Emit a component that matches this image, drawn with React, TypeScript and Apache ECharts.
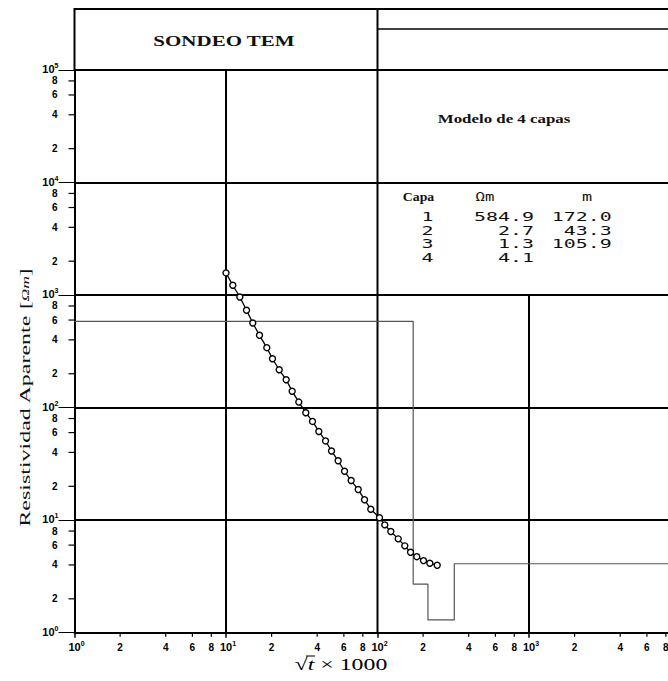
import React, { useEffect, useRef } from 'react';
import * as echarts from 'echarts';

// Measured curve: sqrt(t) x 1000 vs apparent resistivity (Ohm m)
const sqrtTimeX = [10.0, 11.09, 12.34, 13.66, 15.02, 16.64, 18.59, 20.27, 22.44, 24.96, 27.33, 30.24, 33.63, 37.24, 41.0, 45.4, 49.7, 55.0, 60.6, 67.0, 74.6, 82.1, 90.3, 103.1, 111.7, 122.4, 137, 151.4, 165.2, 181.7, 201.2, 221.5, 247.8];
const apparentRho = [1574, 1222, 962, 733, 565, 439, 341, 272, 217, 177, 140, 112, 90.1, 75.4, 61.4, 50.6, 41.2, 33.7, 27.2, 22.5, 18.7, 15.2, 12.5, 10.5, 9.08, 7.92, 6.82, 5.91, 5.18, 4.74, 4.37, 4.14, 3.97];

// 4-layer model
const layerIds = ['1', '2', '3', '4'];
const layerRho = [584.9, 2.7, 1.3, 4.1];
const layerThickness = [172.0, 43.3, 105.9];

// Axis ticks
const xDecades = [1, 10, 100, 1000];
const yDecades = [1, 10, 100, 1000, 10000];
const xMajors = [1, 10, 100, 1000, 10000];
const yMajors = [1, 10, 100, 1000, 10000, 100000];
const minorDigits = [2, 4, 6, 8];

const titleText = 'SONDEO TEM';
const modelTitle = 'Modelo de 4 capas';
const tableHeaders = ['Capa', 'Ωm', 'm'];
const yName = 'Resistividad Aparente ';
const yUnit = 'Ωm';

const L = 74.5;
const T = 70;
const DEC_X = 151.5;
const B = 632.7;
const W = 668;
const H = 681;

export default function App() {
  const ref = useRef<HTMLDivElement>(null);

  useEffect(() => {
    const chart = echarts.init(ref.current!, null, { renderer: 'svg' });

    const curve = sqrtTimeX.map((x, i) => [x, apparentRho[i]]);

    const steps: number[][] = [[1, layerRho[0]]];
    let depth = 0;
    layerThickness.forEach((th, i) => {
      depth += th;
      steps.push([depth, layerRho[i]]);
      steps.push([depth, layerRho[i + 1]]);
    });
    steps.push([10000, layerRho[layerRho.length - 1]]);

    const xMinor: number[][] = [];
    xDecades.forEach((d) => minorDigits.forEach((m) => xMinor.push([d * m, m])));
    const yMinor: number[][] = [];
    yDecades.forEach((d) => minorDigits.forEach((m) => yMinor.push([m, d * m])));

    const tickFont = 'bold 10px "Liberation Sans"';
    const majorRich = {
      b: { font: 'bold 11px "Liberation Sans"', fill: '#000', lineHeight: 12 },
      s: { font: 'bold 7px "Liberation Sans"', fill: '#000', padding: [0, 0, 7, 0] },
    };
    const majorText = (v: number) => `{b|10}{s|${Math.round(Math.log10(v))}}`;

    const vline = (x: number, y2: number) => ({
      type: 'line',
      data: [[x, 1], [x, y2]],
      symbol: 'none',
      silent: true,
      lineStyle: { color: '#000', width: 2 },
      z: 3,
    });

    const right = W - (L + 4 * DEC_X);
    const rightEdge = L + 4 * DEC_X + 20;
    const x100 = L + 2 * DEC_X;

    const tableFont = '12px "DejaVu Sans Mono"';
    const rowsY = [217.3, 230.7, 244.3, 258.3];
    const tableTexts: any[] = [];
    layerIds.forEach((id, i) => {
      tableTexts.push({
        type: 'text', x: 427.5, y: rowsY[i], scaleX: 1.66,
        style: { text: id, font: tableFont, fill: '#111', align: 'center', verticalAlign: 'middle' },
      });
      tableTexts.push({
        type: 'text', x: 534, y: rowsY[i], scaleX: 1.66,
        style: { text: layerRho[i].toFixed(1), font: tableFont, fill: '#111', align: 'right', verticalAlign: 'middle' },
      });
      if (i < layerThickness.length) {
        tableTexts.push({
          type: 'text', x: 611.7, y: rowsY[i], scaleX: 1.66,
          style: { text: layerThickness[i].toFixed(1), font: tableFont, fill: '#111', align: 'right', verticalAlign: 'middle' },
        });
      }
    });

    const option: any = {
      animation: false,
      backgroundColor: '#fff',
      grid: {
        left: L,
        top: T,
        right: right,
        bottom: H - B,
        containLabel: false,
        outerBoundsMode: 'none',
      },
      xAxis: {
        type: 'log',
        logBase: 10,
        min: 1,
        max: 10000,
        axisLine: { show: true, lineStyle: { color: '#000', width: 2 } },
        axisTick: { show: true, length: 5, lineStyle: { color: '#000', width: 1.5 } },
        axisLabel: { show: false },
        splitLine: { show: false },
        minorTick: { show: false },
      },
      yAxis: {
        type: 'log',
        logBase: 10,
        min: 1,
        max: 100000,
        axisLine: { show: true, lineStyle: { color: '#000', width: 2 } },
        axisTick: { show: true, length: 16, lineStyle: { color: '#000', width: 1 } },
        axisLabel: { show: false },
        splitLine: { show: true, lineStyle: { color: '#000', width: 2 } },
        minorTick: { show: false },
      },
      series: [
        vline(10, 100000),
        vline(100, 100000),
        vline(1000, 1000),
        {
          type: 'line',
          data: steps,
          symbol: 'none',
          silent: true,
          lineStyle: { color: '#555', width: 1.2 },
          z: 4,
        },
        {
          type: 'line',
          data: curve,
          symbol: 'circle',
          symbolSize: 6,
          itemStyle: { color: '#fff', borderColor: '#000', borderWidth: 1.4 },
          lineStyle: { color: '#000', width: 1.3 },
          z: 5,
        },
        {
          type: 'custom',
          clip: false,
          silent: true,
          data: xMinor,
          z: 6,
          renderItem: (params: any, api: any) => {
            const v = api.value(0);
            const d = api.value(1);
            const p = api.coord([v, 1]);
            return {
              type: 'group',
              children: [
                { type: 'line', shape: { x1: p[0], y1: p[1], x2: p[0], y2: p[1] + 4 }, style: { stroke: '#000', lineWidth: 1.2 } },
                { type: 'text', style: { text: String(d), x: p[0], y: p[1] + 15, align: 'center', verticalAlign: 'middle', font: tickFont, fill: '#000' } },
              ],
            };
          },
        },
        {
          type: 'custom',
          clip: false,
          silent: true,
          data: yMinor,
          z: 6,
          renderItem: (params: any, api: any) => {
            const d = api.value(0);
            const v = api.value(1);
            const p = api.coord([1, v]);
            return {
              type: 'group',
              children: [
                { type: 'line', shape: { x1: p[0] - 6, y1: p[1], x2: p[0], y2: p[1] }, style: { stroke: '#000', lineWidth: 1.2 } },
                { type: 'text', style: { text: String(d), x: p[0] - 17, y: p[1], align: 'right', verticalAlign: 'middle', font: tickFont, fill: '#000' } },
              ],
            };
          },
        },
        {
          type: 'custom',
          clip: false,
          silent: true,
          data: xMajors.map((v) => [v, 1]),
          z: 6,
          renderItem: (params: any, api: any) => {
            const v = api.value(0);
            const p = api.coord([v, 1]);
            return {
              type: 'text',
              style: { text: majorText(v), rich: majorRich, x: p[0] + 2, y: p[1] + 14, align: 'center', verticalAlign: 'middle', fill: '#000' },
            };
          },
        },
        {
          type: 'custom',
          clip: false,
          silent: true,
          data: yMajors.map((v) => [1, v]),
          z: 6,
          renderItem: (params: any, api: any) => {
            const v = api.value(1);
            const p = api.coord([1, v]);
            return {
              type: 'text',
              style: { text: majorText(v), rich: majorRich, x: p[0] - 16, y: p[1] - 1, align: 'right', verticalAlign: 'middle', fill: '#000' },
            };
          },
        },
      ],
      graphic: [
        {
          type: 'rect',
          shape: { x: L, y: 9, width: rightEdge - L, height: T - 9 },
          style: { fill: 'none', stroke: '#000', lineWidth: 2 },
          silent: true,
        },
        {
          type: 'line',
          shape: { x1: x100, y1: 9, x2: x100, y2: T },
          style: { stroke: '#000', lineWidth: 2 },
          silent: true,
        },
        {
          type: 'line',
          shape: { x1: x100, y1: 29, x2: rightEdge, y2: 29 },
          style: { stroke: '#000', lineWidth: 1.5 },
          silent: true,
        },
        {
          type: 'text', x: 224, y: 41, scaleX: 1.4,
          style: { text: titleText, font: 'bold 15px "Liberation Serif"', fill: '#111', align: 'center', verticalAlign: 'middle' },
        },
        {
          type: 'text', x: 504, y: 119, scaleX: 1.35,
          style: { text: modelTitle, font: 'bold 12.5px "Liberation Serif"', fill: '#111', align: 'center', verticalAlign: 'middle' },
        },
        {
          type: 'text', x: 418.5, y: 196.7, scaleX: 1.15,
          style: { text: tableHeaders[0], font: 'bold 12px "Liberation Serif"', fill: '#111', align: 'center', verticalAlign: 'middle' },
        },
        {
          type: 'text', x: 485, y: 196.7, scaleX: 1.3,
          style: { text: tableHeaders[1], font: tableFont, fill: '#111', align: 'center', verticalAlign: 'middle' },
        },
        {
          type: 'text', x: 587, y: 196.7, scaleX: 1.4,
          style: { text: tableHeaders[2], font: tableFont, fill: '#111', align: 'center', verticalAlign: 'middle' },
        },
        ...tableTexts,
        {
          type: 'text', x: 25, y: 398, rotation: Math.PI / 2, scaleX: 1.6,
          style: {
            text: `{a|${yName}}{u|[}{i|${yUnit}}{u|]}`,
            fill: '#111',
            align: 'center',
            verticalAlign: 'middle',
            rich: {
              a: { font: '15px "Liberation Serif"', fill: '#111' },
              u: { font: '14px "Liberation Serif"', fill: '#111' },
              i: { font: 'italic 11px "Liberation Serif"', fill: '#111' },
            },
          },
        },
        {
          type: 'text', x: 341, y: 664, scaleX: 1.4,
          style: {
            text: '{r|√}{t|t}{n| × 1000}',
            fill: '#000',
            align: 'center',
            verticalAlign: 'middle',
            rich: {
              r: { font: '17px "Liberation Serif"', fill: '#000' },
              t: { font: 'italic 17px "Liberation Serif"', fill: '#000' },
              n: { font: '17px "Liberation Serif"', fill: '#000' },
            },
          },
        },
        {
          type: 'line',
          shape: { x1: 306, y1: 656, x2: 315, y2: 656 },
          style: { stroke: '#000', lineWidth: 1 },
          silent: true,
        },
      ],
    };

    chart.setOption(option);
    return () => chart.dispose();
  }, []);

  return (
    <div
      ref={ref}
      style={{ position: 'absolute', left: 0, top: 0, width: W, height: H, background: '#fff' }}
    />
  );
}
